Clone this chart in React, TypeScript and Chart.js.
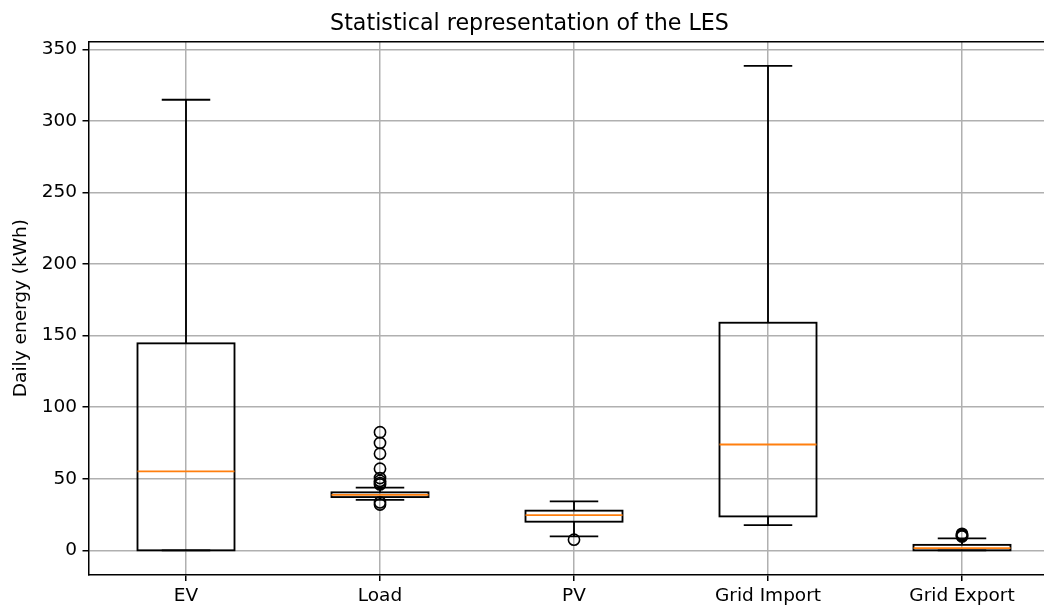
import React, { useEffect, useRef } from "react";
import { Chart, registerables } from "chart.js";

Chart.register(...registerables);

const categories = ["EV", "Load", "PV", "Grid Import", "Grid Export"];
const whiskerLow = [0, 35.2, 9.7, 17.6, 0];
const q1 = [0, 37.2, 20.0, 23.7, 0];
const median = [55.2, 38.7, 24.6, 73.9, 1.5];
const q3 = [144.6, 40.5, 27.7, 159.0, 3.8];
const whiskerHigh = [314.8, 43.8, 34.2, 338.5, 8.3];
const outliersEV: number[] = [];
const outliersLoad = [82.5, 75, 67.5, 57, 50.5, 48.5, 47, 46, 33.5, 32];
const outliersPV = [7.4];
const outliersGridImport: number[] = [];
const outliersGridExport = [11.5, 10.8, 10.2, 9.6];
const yTicks = [0, 50, 100, 150, 200, 250, 300, 350];

const FONT = "'DejaVu Sans', 'Liberation Sans', sans-serif";

const boxPlugin = {
  id: "boxplot",
  beforeDatasetsDraw(chart: any) {
    const { ctx, scales } = chart;
    const x = scales.x;
    const y = scales.y;
    const line = (x1: number, y1: number, x2: number, y2: number) => {
      ctx.beginPath();
      ctx.moveTo(x1, y1);
      ctx.lineTo(x2, y2);
      ctx.stroke();
    };
    ctx.save();
    ctx.lineCap = "butt";
    categories.forEach((_, i) => {
      const cx = x.getPixelForValue(i);
      const half = x.getPixelForValue(i + 0.25) - cx;
      const capHalf = half / 2;
      const py = (v: number) => y.getPixelForValue(v);
      ctx.strokeStyle = "#000";
      ctx.lineWidth = 1.85;
      ctx.strokeRect(cx - half, py(q3[i]), 2 * half, py(q1[i]) - py(q3[i]));
      line(cx, py(q1[i]), cx, py(whiskerLow[i]));
      line(cx, py(q3[i]), cx, py(whiskerHigh[i]));
      line(cx - capHalf, py(whiskerLow[i]), cx + capHalf, py(whiskerLow[i]));
      line(cx - capHalf, py(whiskerHigh[i]), cx + capHalf, py(whiskerHigh[i]));
      ctx.strokeStyle = "#ff7f0e";
      line(cx - half, py(median[i]), cx + half, py(median[i]));
    });
    ctx.restore();
  },
  afterDraw(chart: any) {
    const { ctx, chartArea } = chart;
    ctx.save();
    ctx.strokeStyle = "#000";
    ctx.lineWidth = 1.5;
    ctx.beginPath();
    ctx.moveTo(chartArea.left, chartArea.top);
    ctx.lineTo(chartArea.right, chartArea.top);
    ctx.lineTo(chartArea.right, chartArea.bottom);
    ctx.stroke();
    ctx.restore();
  },
};

export default function App() {
  const ref = useRef<HTMLCanvasElement | null>(null);
  useEffect(() => {
    if (!ref.current) return;
    const allOutliers = [outliersEV, outliersLoad, outliersPV, outliersGridImport, outliersGridExport];
    const points: { x: number; y: number }[] = [];
    allOutliers.forEach((arr, i) => arr.forEach((v) => points.push({ x: i, y: v })));
    const chart = new Chart(ref.current, {
      type: "scatter",
      data: {
        datasets: [
          {
            label: "outliers",
            data: points,
            pointRadius: 5.6,
            pointBorderWidth: 1.6,
            pointBorderColor: "#000",
            pointBackgroundColor: "rgba(0,0,0,0)",
            showLine: false,
          } as any,
        ],
      },
      options: {
        responsive: false,
        animation: false,
        devicePixelRatio: 1,
        layout: { padding: { left: 0, right: 89, top: 0, bottom: 0 } },
        plugins: {
          legend: { display: false },
          tooltip: { enabled: false },
          title: {
            display: true,
            text: "Statistical representation of the LES",
            color: "#000",
            font: { family: FONT, size: 22.2, weight: "normal" as any },
            padding: { top: 11, bottom: 4 },
          },
        },
        scales: {
          x: {
            type: "linear",
            min: -0.5,
            max: 4.5,
            afterBuildTicks: (s: any) => {
              s.ticks = categories.map((_, i) => ({ value: i }));
            },
            afterFit: (s: any) => {
              s.height = 31.5;
            },
            ticks: {
              callback: (v: any) => categories[Math.round(Number(v))],
              color: "#000",
              font: { family: FONT, size: 18.5 },
              padding: 4,
              maxRotation: 0,
              autoSkip: false,
            },
            grid: {
              color: "#b0b0b0",
              lineWidth: 1.5,
              tickColor: "#000",
              tickLength: 6.5,
              tickWidth: 1.5,
            },
            border: { color: "#000", width: 1.5 },
          },
          y: {
            type: "linear",
            min: -16.9,
            max: 355.4,
            afterBuildTicks: (s: any) => {
              s.ticks = yTicks.map((v) => ({ value: v }));
            },
            afterFit: (s: any) => {
              s.width = 89;
            },
            ticks: {
              color: "#000",
              font: { family: FONT, size: 18.5 },
              padding: 5.5,
            },
            grid: {
              color: "#b0b0b0",
              lineWidth: 1.5,
              tickColor: "#000",
              tickLength: 6.5,
              tickWidth: 1.5,
            },
            border: { color: "#000", width: 1.5 },
            title: {
              display: true,
              text: "Daily energy (kWh)",
              color: "#000",
              font: { family: FONT, size: 18.5 },
              padding: { top: 10, bottom: 0 },
            },
          },
        },
      },
      plugins: [boxPlugin],
    });
    return () => chart.destroy();
  }, []);
  return (
    <div
      style={{
        position: "fixed",
        left: 0,
        top: 0,
        width: 1044,
        height: 606,
        overflow: "hidden",
        background: "#fff",
      }}
    >
      <canvas ref={ref} width={1148} height={606} style={{ display: "block" }} />
    </div>
  );
}
